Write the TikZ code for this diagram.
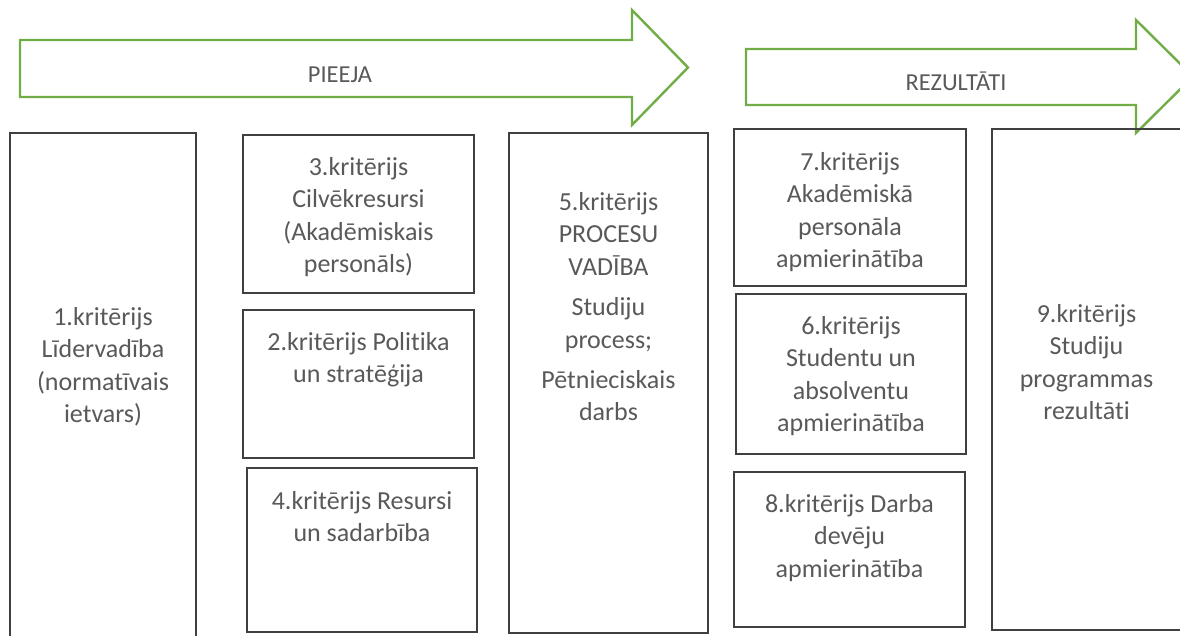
\documentclass[tikz,border=0pt]{standalone}
\usepackage{fontspec}
\setmainfont{Carlito}[Ligatures=NoCommon]
\usepackage{tikz}
\usetikzlibrary{positioning,fit}
\definecolor{arrowgreen}{HTML}{70AD47}
\definecolor{boxline}{HTML}{404040}
\definecolor{labelgray}{HTML}{595959}
\tikzset{
  % --- criterion boxes and their texts ---
  crit/.style={draw=boxline, line width=1pt, inner sep=0pt},
  crittext/.style={text=labelgray, align=center, inner sep=0pt,
                   font=\fontsize{13}{16.2}\selectfont},
  % --- big block arrows on top ---
  flowarrow/.style={draw=arrowgreen, line width=1.2pt, line join=miter},
  flowlabel/.style={text=labelgray, inner sep=0pt, anchor=base,
                    font=\fontsize{12.2}{15}\selectfont},
}
\begin{document}
\begin{tikzpicture}[x=0.5pt, y=-0.5pt]
  \useasboundingbox (0,0) rectangle (1180,636);
  \clip (0,0) rectangle (1180,636);
  % arrows
  \draw[flowarrow] (20,40) -- (632,40) -- (632,10) -- (688,67.5) -- (632,125)
        -- (632,97) -- (20,97) -- cycle;
  \node[flowlabel] (pieeja) at (340,83) {PIEEJA};
  \draw[flowarrow] (746,49) -- (1136,49) -- (1136,20) -- (1193,76.5) -- (1136,133)
        -- (1136,105) -- (746,105) -- cycle;
  \node[flowlabel] (rez) at (956,91) {REZULTĀTI};
  % boxes
  \node[crit, fit={(10,133) (196,645)}] (k1) {};
  \node[crit, fit={(243,135) (474,293)}] (k3) {};
  \node[crit, fit={(243,310) (474,458)}] (k2) {};
  \node[crit, fit={(247,468) (477,632)}] (k4) {};
  \node[crit, fit={(509,133) (708,633)}] (k5) {};
  \node[crit, fit={(734,129) (966,286)}] (k7) {};
  \node[crit, fit={(736,294) (966,454)}] (k6) {};
  \node[crit, fit={(734,472) (965,627)}] (k8) {};
  \node[crit, fit={(992,129) (1181,630)}] (k9) {};
  % texts
  \node[crittext, below=87.5pt of k1.north] (t1)
        {1.kritērijs\\Līdervadība\\(normatīvais\\ietvars)};
  \node[crittext, below=11.5pt of k3.north] (t3)
        {3.kritērijs\\Cilvēkresursi\\(Akadēmiskais\\personāls)};
  \node[crittext, below=11.5pt of k2.north] (t2)
        {2.kritērijs Politika\\un stratēģija};
  \node[crittext, below=12pt of k4.north] (t4)
        {4.kritērijs Resursi\\un sadarbība};
  \node[crittext, below=30pt of k5.north] (t5)
        {5.kritērijs\\PROCESU\\VADĪBA\\[4pt]Studiju\\process;\\[4pt]Pētnieciskais\\darbs};
  \node[crittext, below=12pt of k7.north] (t7)
        {7.kritērijs\\Akadēmiskā\\personāla\\apmierinātība};
  \node[crittext, below=11.5pt of k6.north] (t6)
        {6.kritērijs\\Studentu un\\absolventu\\apmierinātība};
  \node[crittext, below=11.5pt of k8.north] (t8)
        {8.kritērijs Darba\\devēju\\apmierinātība};
  \node[crittext, below=88pt of k9.north] (t9)
        {9.kritērijs\\Studiju\\programmas\\rezultāti};
\end{tikzpicture}
\end{document}
